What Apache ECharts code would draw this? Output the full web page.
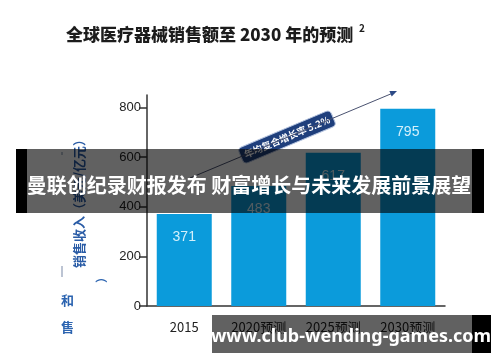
<!DOCTYPE html>
<html><head><meta charset="utf-8">
<script src="https://cdn.jsdelivr.net/npm/echarts@6/dist/echarts.min.js"></script>
<style>html,body{margin:0;padding:0;background:#fff}#c{width:500px;height:362px}</style>
</head><body><div id="c"></div>
<script>
const categories = ['2015', '2020预测', '2025预测', '2030预测'];
const sales = [371, 483, 617, 795];
const yTicks = [0, 200, 400, 600, 800];
const titleText = '全球医疗器械销售额至 2030 年的预测';
const titleNote = '2';
const yAxisName = '销售收入（美元/亿元）';
const cagrText = '年均复合增长率 5.2%';
const bannerText = '曼联创纪录财报发布 财富增长与未来发展前景展望';
const watermarkText = 'www.club-wending-games.com';

const CJK = '"Noto Sans CJK SC", "Noto Sans", sans-serif';
const chart = echarts.init(document.getElementById('c'), null, {renderer: 'canvas'});
const lineAngle = Math.atan2(178 - 92, 395 - 190);

chart.setOption({
  backgroundColor: '#ffffff',
  animation: false,
  title: {
    text: titleText, left: 61, top: 21,
    textStyle: {fontFamily: CJK, fontSize: 17, fontWeight: 900, color: '#1c1c1c'}
  },
  grid: {left: 147, right: 55, top: 95, bottom: 56},
  xAxis: {
    type: 'category', data: categories,
    axisLine: {lineStyle: {color: '#333', width: 1.5}},
    axisTick: {show: false},
    axisLabel: {margin: 15, fontSize: 13, color: '#222', fontFamily: CJK}
  },
  yAxis: {
    type: 'value', min: 0, max: 850,
    name: yAxisName, nameLocation: 'middle', nameRotate: 90, nameGap: 61,
    nameTextStyle: {fontFamily: CJK, fontSize: 13, fontWeight: 'bold', color: '#2a5ca6'},
    axisLine: {show: true, lineStyle: {color: '#333', width: 1.5}},
    axisTick: {show: true, length: 8, inside: false, customValues: yTicks, lineStyle: {color: '#333', width: 1.5}},
    axisLabel: {customValues: yTicks, margin: 6, fontSize: 13, color: '#222', fontFamily: 'Liberation Sans, Arial, sans-serif'},
    splitLine: {show: false}
  },
  series: [{
    type: 'bar', data: sales, barWidth: 55,
    itemStyle: {color: '#0b9bdb'},
    label: {show: true, position: 'insideTop', distance: 16, fontSize: 14,
            color: '#d4f0fb', fontFamily: 'Liberation Sans, Arial, sans-serif'}
  }],
  graphic: [
    {type: 'text', left: 359, top: 23, z: 10,
     style: {text: titleNote, fontSize: 10, fontWeight: 'bold', fill: '#1c1c1c', fontFamily: CJK}},
    {type: 'line', z: 10, shape: {x1: 190, y1: 178, x2: 393, y2: 93},
     style: {stroke: '#4a5270', lineWidth: 1}},
    {type: 'polygon', z: 10, x: 397, y: 91, rotation: lineAngle,
     shape: {points: [[0, 0], [-7, -3], [-7, 3]]}, style: {fill: '#2c4a86'}},
    {type: 'group', x: 287, y: 137, rotation: lineAngle, z: 11, children: [
      {type: 'rect', shape: {x: -50, y: -8.5, width: 100, height: 17, r: 4},
       style: {fill: '#1f3f7c', stroke: '#b8c6e0', lineWidth: 1}},
      {type: 'text', style: {text: cagrText, x: 0, y: 0, align: 'center', verticalAlign: 'middle',
        fill: '#ffffff', font: 'bold 9.5px "Noto Sans CJK SC", sans-serif'}}
    ]},
    {type: 'text', left: 61, top: 294, z: 10,
     style: {text: '和', fill: '#2c64b0', font: 'bold 13px "Noto Sans CJK SC", sans-serif'}},
    {type: 'text', left: 61, top: 321, z: 10,
     style: {text: '售', fill: '#2c64b0', font: 'bold 13px "Noto Sans CJK SC", sans-serif'}},
    {type: 'rect', z: 10, shape: {x: 61.5, y: 266, width: 1, height: 11}, style: {fill: '#7a8aa8'}},
    {type: 'rect', z: 10, shape: {x: 61.5, y: 152, width: 1, height: 3}, style: {fill: '#7a8aa8'}},
    {type: 'text', z: 10, x: 101, y: 277, rotation: -Math.PI / 2,
     style: {text: '（', align: 'center', verticalAlign: 'middle', fill: '#2c64b0', font: 'bold 12px "Noto Sans CJK SC", sans-serif'}},
    // banner
    {type: 'rect', z: 20, shape: {x: 16, y: 149, width: 11, height: 64}, style: {fill: '#000'}},
    {type: 'rect', z: 20, shape: {x: 472, y: 149, width: 12, height: 64}, style: {fill: '#000'}},
    {type: 'rect', z: 21, shape: {x: 27, y: 149, width: 445, height: 64}, style: {fill: 'rgba(0,0,0,0.62)'}},
    {type: 'text', z: 22, x: 249, y: 185,
     style: {text: bannerText, align: 'center', verticalAlign: 'middle', fill: '#ffffff',
       font: 'bold 20px "Noto Sans CJK SC", sans-serif'}},
    // watermark
    {type: 'rect', z: 20, shape: {x: 472, y: 315, width: 19, height: 38}, style: {fill: '#000'}},
    {type: 'rect', z: 21, shape: {x: 212, y: 315, width: 260, height: 38}, style: {fill: 'rgba(0,0,0,0.62)'}},
    {type: 'text', z: 22, x: 351, y: 337,
     style: {text: watermarkText, align: 'center', verticalAlign: 'middle', fill: '#ffffff',
       font: 'bold 18px "Noto Sans", "Open Sans", sans-serif'}}
  ]
});
</script></body></html>
